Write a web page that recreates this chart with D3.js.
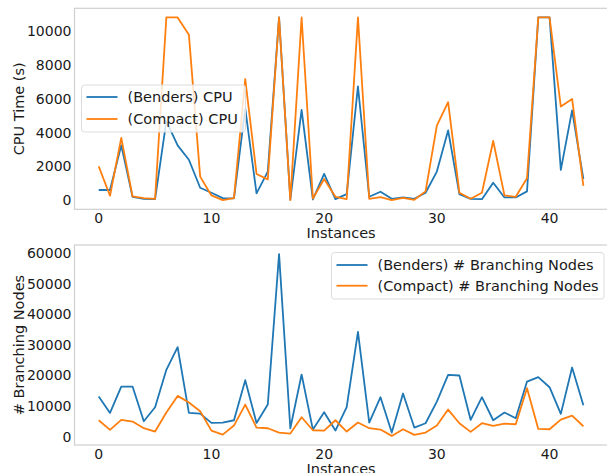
<!DOCTYPE html>
<html lang="en">
<head>
<meta charset="utf-8">
<title>Benders vs Compact</title>
<style>
	body { margin: 0; background: #fff; }
	svg { font-family: "DejaVu Sans", sans-serif; }
	.tick-label { font-size: 14px; fill: #1a1a1a; }
	.axis-title { font-size: 14.5px; fill: #1a1a1a; }
	.frame { fill: none; stroke: #cfcfcf; stroke-width: 1.2; }
	.series { fill: none; stroke-width: 1.8; stroke-linejoin: round; }
	.legend-box { fill: #fff; fill-opacity: 0.8; stroke: #dcdcdc; stroke-width: 1; }
	.legend-text { font-size: 14.5px; fill: #1a1a1a; }
</style>
</head>
<body>
<div class="chart"></div>
<script src="https://d3js.org/d3.v7.min.js"></script>
<script>
// ---- data ----
var instances = d3.range(44);

var bendersCpu = [600, 600, 3240, 200, 80, 60, 4670, 3240, 2390, 735,
	440, 120, 100, 5410, 400, 1690, 10800, 40, 5330, 40,
	1550, 60, 360, 6720, 200, 500, 80, 160, 80, 440,
	1690, 4120, 360, 80, 60, 1030, 160, 160, 520, 10800,
	10800, 1790, 5310, 1250];

var compactCpu = [2000, 260, 3680, 220, 120, 80, 10800, 10800, 9780, 1390,
	280, 0, 120, 7160, 1550, 1230, 10800, 0, 10800, 100,
	1250, 200, 60, 10800, 80, 180, 0, 140, 20, 520,
	4410, 5790, 440, 80, 440, 3500, 280, 200, 1290, 10800,
	10800, 5530, 5980, 840];

var bendersNodes = [13090, 7740, 16360, 16360, 5020, 9600, 21810, 29230, 7740, 7520,
	4470, 4580, 5340, 18430, 4470, 10470, 59650, 2730, 20280, 2290,
	7960, 1960, 9600, 34240, 4580, 12870, 1310, 14070, 2940, 4360,
	11450, 20170, 19960, 5450, 12870, 5340, 7850, 6000, 17990, 19410,
	16140, 7420, 22570, 10250];

var compactNodes = [5340, 2180, 5450, 4910, 2730, 1640, 7850, 13300, 11120, 8290,
	1960, 650, 3600, 10470, 2940, 2730, 1310, 980, 6320, 2070,
	1960, 5340, 1640, 4580, 2730, 2290, 220, 2400, 550, 1310,
	3600, 8830, 4360, 1530, 4360, 3490, 4250, 4030, 15810, 2510,
	2400, 5560, 6870, 3380];

var xTicks = [0, 10, 20, 30, 40];
var cpuTicks = [0, 2000, 4000, 6000, 8000, 10000];
var nodeTicks = [0, 10000, 20000, 30000, 40000, 50000, 60000];

var blue = '#1f77b4', orange = '#ff7f0e';

// ---- layout ----
var W = 607, H = 473;
var left = 74.5, right = 607.6;

var svg = d3.select('.chart').append('svg')
	.attr('width', W)
	.attr('height', H);

// matplotlib-like 5% margins
function padded(lo, hi) {
	var m = (hi - lo) * 0.05;
	return [lo - m, hi + m];
}

var x = d3.scaleLinear()
	.domain(padded(0, instances.length - 1))
	.range([left, right]);

function drawPanel(cfg) {
	var lo = d3.min(cfg.series, function(s) { return d3.min(s.values) });
	var hi = d3.max(cfg.series, function(s) { return d3.max(s.values) });
	var y = d3.scaleLinear()
		.domain(padded(lo, hi))
		.range([cfg.bottom, cfg.top]);

	var g = svg.append('g');

	var clipId = 'clip-' + cfg.name;
	g.append('clipPath').attr('id', clipId)
		.append('rect')
		.attr('x', left).attr('y', cfg.top)
		.attr('width', right - left).attr('height', cfg.bottom - cfg.top);

	// y tick labels
	g.selectAll('text.ytick')
		.data(cfg.yTicks)
		.enter().append('text')
		.attr('class', 'tick-label ytick')
		.attr('x', left - 3)
		.attr('y', function(d) { return y(d) })
		.attr('dy', '0.36em')
		.attr('text-anchor', 'end')
		.text(function(d) { return d });

	// x tick labels
	g.selectAll('text.xtick')
		.data(xTicks)
		.enter().append('text')
		.attr('class', 'tick-label xtick')
		.attr('x', function(d) { return x(d) })
		.attr('y', cfg.bottom + 3)
		.attr('dy', '0.76em')
		.attr('text-anchor', 'middle')
		.text(function(d) { return d });

	// axis titles
	g.append('text')
		.attr('class', 'axis-title')
		.attr('x', (left + right) / 2)
		.attr('y', cfg.bottom + 29)
		.attr('text-anchor', 'middle')
		.text('Instances');

	g.append('text')
		.attr('class', 'axis-title')
		.attr('transform', 'translate(24,' + ((cfg.top + cfg.bottom) / 2) + ') rotate(-90)')
		.attr('text-anchor', 'middle')
		.text(cfg.yTitle);

	// lines
	var line = d3.line()
		.x(function(d, i) { return x(instances[i]) })
		.y(function(d) { return y(d) });

	var lines = g.append('g').attr('clip-path', 'url(#' + clipId + ')');
	cfg.series.forEach(function(s) {
		lines.append('path')
			.attr('class', 'series')
			.attr('d', line(s.values))
			.style('stroke', s.color);
	});

	// frame
	g.append('rect')
		.attr('class', 'frame')
		.attr('x', left).attr('y', cfg.top)
		.attr('width', right - left).attr('height', cfg.bottom - cfg.top);

	// legend
	var L = cfg.legend;
	var lg = g.append('g');
	lg.append('rect')
		.attr('class', 'legend-box')
		.attr('x', L.x).attr('y', L.y)
		.attr('width', L.w).attr('height', L.h)
		.attr('rx', 3);
	cfg.series.forEach(function(s, i) {
		var ry = L.y + L.row0 + i * L.step;
		lg.append('line')
			.attr('x1', L.x + 5).attr('x2', L.x + 36)
			.attr('y1', ry).attr('y2', ry)
			.style('stroke', s.color)
			.style('stroke-width', 1.8);
		lg.append('text')
			.attr('class', 'legend-text')
			.attr('x', L.x + 46)
			.attr('y', ry)
			.attr('dy', '0.36em')
			.text(s.label);
	});
}

drawPanel({
	name: 'cpu',
	top: 8.3, bottom: 209.3,
	yTicks: cpuTicks,
	yTitle: 'CPU Time (s)',
	series: [
		{ label: '(Benders) CPU', values: bendersCpu, color: blue },
		{ label: '(Compact) CPU', values: compactCpu, color: orange }
	],
	legend: { x: 81.5, y: 85, w: 164, h: 47, row0: 12, step: 22 }
});

drawPanel({
	name: 'nodes',
	top: 245, bottom: 445,
	yTicks: nodeTicks,
	yTitle: '# Branching Nodes',
	series: [
		{ label: '(Benders) # Branching Nodes', values: bendersNodes, color: blue },
		{ label: '(Compact) # Branching Nodes', values: compactNodes, color: orange }
	],
	legend: { x: 331.5, y: 252.5, w: 272.5, h: 46.5, row0: 12.5, step: 20.7 }
});
</script>
</body>
</html>
